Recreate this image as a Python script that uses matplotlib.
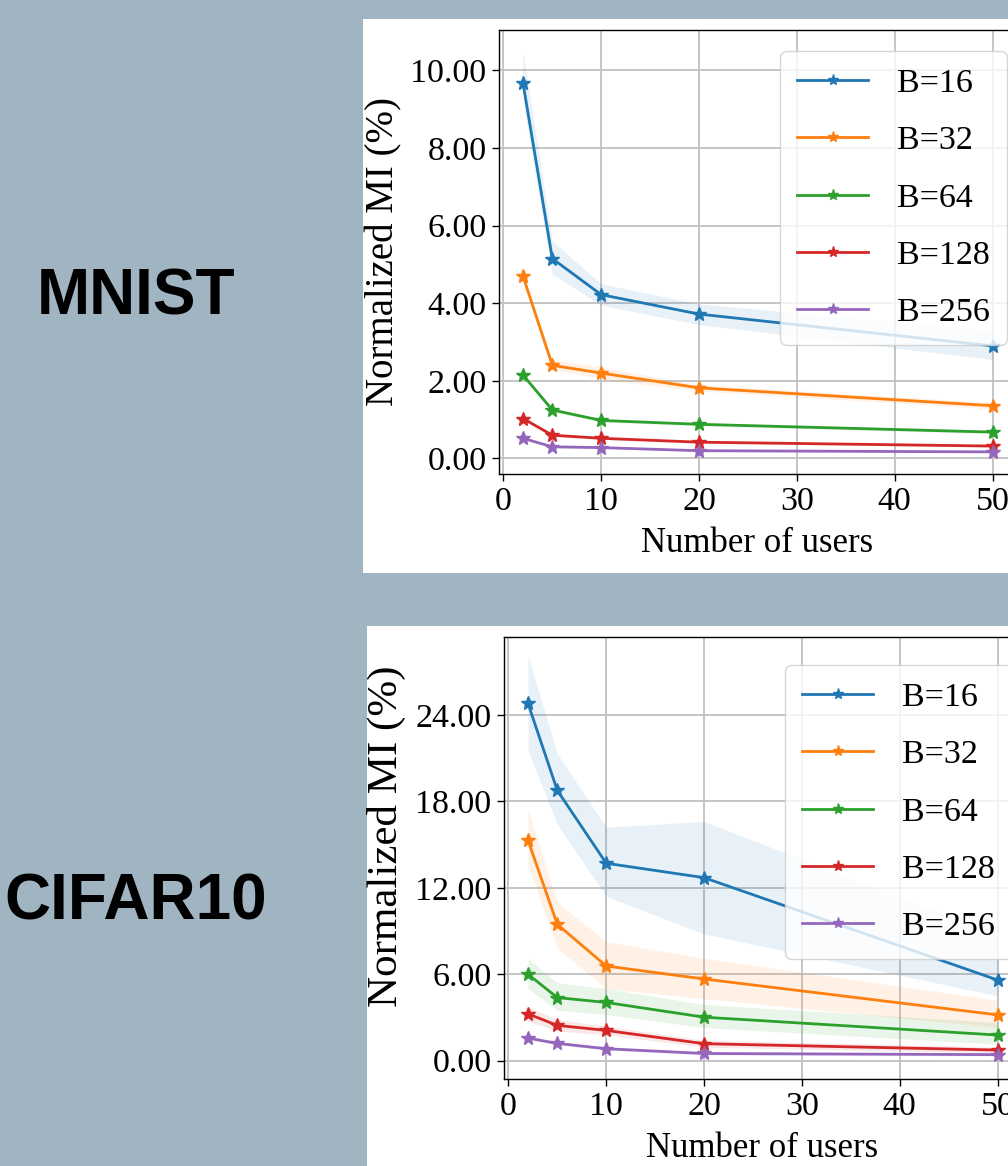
import numpy as np
import matplotlib
matplotlib.use("Agg")
import matplotlib.pyplot as plt
from matplotlib.patches import Rectangle

# ======== data ========
users = [2, 5, 10, 20, 50]
labels = ["B=16", "B=32", "B=64", "B=128", "B=256"]

# MNIST: mean and band (lower / upper)
mnist_mean = [
    [9.68, 5.15, 4.22, 3.72, 2.90],
    [4.70, 2.40, 2.20, 1.82, 1.36],
    [2.15, 1.25, 0.98, 0.88, 0.68],
    [1.03, 0.60, 0.52, 0.42, 0.32],
    [0.52, 0.30, 0.28, 0.20, 0.17],
]
mnist_low = [
    [9.20, 4.75, 3.95, 3.45, 2.55],
    [4.60, 2.30, 2.05, 1.74, 1.28],
    [2.10, 1.20, 0.94, 0.84, 0.64],
    [0.99, 0.56, 0.49, 0.39, 0.29],
    [0.49, 0.28, 0.26, 0.18, 0.15],
]
mnist_high = [
    [10.50, 5.60, 4.50, 3.98, 3.30],
    [4.80, 2.55, 2.35, 1.90, 1.44],
    [2.20, 1.30, 1.02, 0.92, 0.72],
    [1.07, 0.64, 0.55, 0.45, 0.35],
    [0.55, 0.32, 0.30, 0.22, 0.19],
]

# CIFAR10: mean and band (lower / upper)
cifar_mean = [
    [24.8, 18.75, 13.7, 12.7, 5.6],
    [15.3, 9.46, 6.57, 5.67, 3.18],
    [6.0, 4.38, 4.04, 3.02, 1.78],
    [3.25, 2.45, 2.10, 1.18, 0.74],
    [1.57, 1.20, 0.83, 0.50, 0.42],
]
cifar_low = [
    [21.5, 16.4, 11.4, 8.8, 4.5],
    [13.6, 7.8, 5.0, 4.3, 2.3],
    [5.0, 3.5, 3.2, 2.3, 1.15],
    [2.75, 2.05, 1.80, 0.93, 0.54],
    [1.47, 1.10, 0.73, 0.40, 0.32],
]
cifar_high = [
    [28.1, 21.3, 16.2, 16.6, 8.7],
    [17.4, 11.0, 8.26, 7.1, 4.2],
    [7.1, 5.4, 5.0, 3.9, 2.65],
    [3.75, 2.85, 2.40, 1.43, 0.94],
    [1.67, 1.30, 0.93, 0.60, 0.52],
]

mnist_ticks = [0, 2, 4, 6, 8, 10]
cifar_ticks = [0, 6, 12, 18, 24]
x_ticks = [0, 10, 20, 30, 40, 50]
# ======================

W, H = 1008, 1166
bg = "#a0b4c2"
serif = ["Liberation Serif", "DejaVu Serif"]
colors = plt.rcParams["axes.prop_cycle"].by_key()["color"]

fig = plt.figure(figsize=(W / 100, H / 100), dpi=100, facecolor=bg)

# white panels behind each plot
fig.patches.append(Rectangle((363 / W, 1 - 573 / H), (W - 363) / W, (573 - 19) / H,
                             transform=fig.transFigure, facecolor="white",
                             edgecolor="none", zorder=-5))
fig.patches.append(Rectangle((367 / W, 0), (W - 367) / W, (H - 626) / H,
                             transform=fig.transFigure, facecolor="white",
                             edgecolor="none", zorder=-5))


def draw_panel(ax, means, lows, highs, yticks, ylim, legend_xy, ylabel_xy, ylabel_size):
    for i, lab in enumerate(labels):
        ax.fill_between(users, lows[i], highs[i], color=colors[i], alpha=0.1, lw=0)
        ax.plot(users, means[i], color=colors[i], marker="*", markersize=10,
                linewidth=2, label=lab)
    ax.set_xlim(-0.45, 52.4)
    ax.set_ylim(*ylim)
    ax.set_xticks(x_ticks)
    ax.set_yticks(yticks)
    ax.set_yticklabels(["%.2f" % t for t in yticks])
    ax.grid(True, color="#c0c0c0", linewidth=1.3)
    ax.set_axisbelow(True)
    for lab in ax.get_xticklabels() + ax.get_yticklabels():
        lab.set_family(serif)
        lab.set_fontsize(24.5)
    ax.tick_params(length=5, width=1, pad=4)
    ax.set_xlabel("Number of users", family=serif, fontsize=25, labelpad=7)
    ax.set_ylabel("Normalized MI (%)", family=serif, fontsize=ylabel_size)
    ax.yaxis.set_label_coords(*ylabel_xy)
    for s in ax.spines.values():
        s.set_color("black")
        s.set_linewidth(1.0)
    ax.legend(loc="upper left", bbox_to_anchor=legend_xy,
              bbox_transform=fig.transFigure, borderaxespad=0,
              prop={"family": serif, "size": 24.5}, labelspacing=0.78,
              handlelength=2.1, handletextpad=0.85, markerscale=0.8,
              borderpad=0.5)


ax1 = fig.add_axes([499 / W, 1 - 474 / H, (1016 - 499) / W, (474 - 30) / H])
draw_panel(ax1, mnist_mean, mnist_low, mnist_high, mnist_ticks, (-0.4, 11.04),
           (780 / W, 1 - 51 / H), (-0.186, 0.5), 28)

ax2 = fig.add_axes([504 / W, 1 - 1079 / H, (1021 - 504) / W, (1079 - 637) / H])
draw_panel(ax2, cifar_mean, cifar_low, cifar_high, cifar_ticks, (-1.27, 29.4),
           (785 / W, 1 - 665 / H), (-0.19, 0.55), 31)

sans = ["Liberation Sans", "DejaVu Sans"]
fig.text(136 / W, 1 - 297 / H, "MNIST", family=sans, fontsize=46,
         fontweight="bold", ha="center", va="center")
fig.text(136 / W, 1 - 903 / H, "CIFAR10", family=sans, fontsize=46,
         fontweight="bold", ha="center", va="center")

fig.savefig("out.png", dpi=100, facecolor=bg)
